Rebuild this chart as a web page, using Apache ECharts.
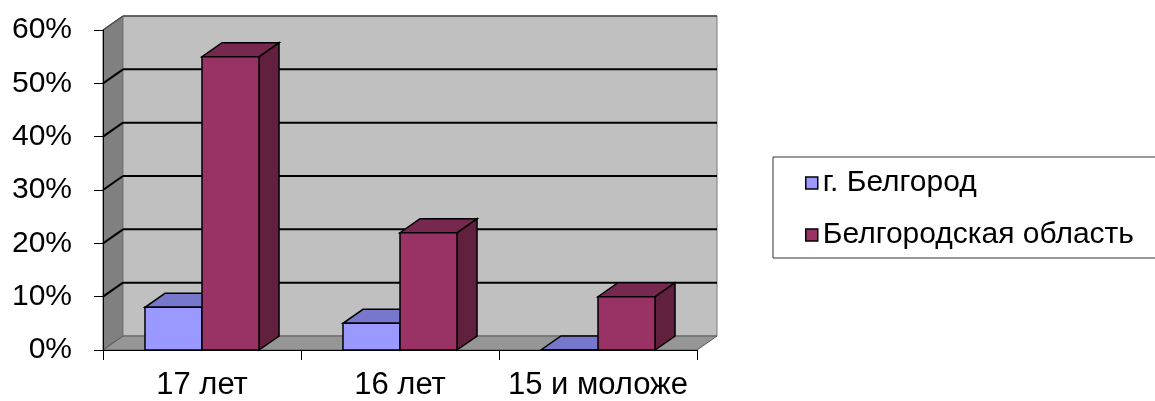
<!DOCTYPE html>
<html><head><meta charset="utf-8">
<script src="https://cdn.jsdelivr.net/npm/echarts@6/dist/echarts.min.js"></script>
<style>html,body{margin:0;padding:0;background:#fff}#c{width:1155px;height:401px}</style>
</head><body><div id="c"></div>
<script>
const categories = ['17 лет', '16 лет', '15 и моложе'];
const seriesNames = ['г. Белгород', 'Белгородская область'];
const cityValues = [8, 5, 0];
const regionValues = [55, 22, 10];
const yTicks = [0, 10, 20, 30, 40, 50, 60];

const DX = 20, DY = -14;
const FONT = '"Liberation Sans", Arial, sans-serif';
const yMax = yTicks[yTicks.length - 1];

function bgRender(params, api) {
  const cs = params.coordSys;
  const v = api.value(1);
  const y = api.coord([0, v])[1];
  const x0 = cs.x, x1 = cs.x + cs.width;
  const top = cs.y, bot = cs.y + cs.height;
  const children = [];
  if (params.dataIndex === 0) {
    children.push({type:'polygon', shape:{points:[[x0,top],[x0+DX,top+DY],[x0+DX,bot+DY],[x0,bot]]}, style:{fill:'#808080', stroke:'#5a5a5a', lineWidth:1}});
    children.push({type:'rect', shape:{x:x0+DX, y:top+DY, width:cs.width, height:cs.height}, style:{fill:'#c0c0c0', stroke:'#7a7a7a', lineWidth:1}});
    children.push({type:'polygon', shape:{points:[[x0,bot],[x1,bot],[x1+DX,bot+DY],[x0+DX,bot+DY]]}, style:{fill:'#969696', stroke:'#5a5a5a', lineWidth:1}});
  }
  if (v > 0) {
    const col = v === yMax ? '#4a4a4a' : '#000';
    const lw = v === yMax ? 1.5 : 2;
    children.push({type:'line', shape:{x1:x0+DX, y1:y+DY, x2:x1+DX, y2:y+DY}, style:{stroke:col, lineWidth:lw}});
    children.push({type:'line', shape:{x1:x0, y1:y, x2:x0+DX, y2:y+DY}, style:{stroke:col, lineWidth:lw}});
  }
  return {type:'group', children};
}

function barRender(pos, topColor, sideColor) {
  return function (params, api) {
    const ci = api.value(0), v = api.value(1);
    const base = api.coord([ci, 0]);
    const tp = api.coord([ci, v]);
    const band = api.size([1, 0])[0];
    const bw = band * 0.288;
    const xl = pos === 0 ? base[0] - bw : base[0];
    const xr = xl + bw;
    const yb = base[1], yt = tp[1];
    const st = '#000', lw = 1.5;
    return {type:'group', children:[
      {type:'polygon', shape:{points:[[xr,yb],[xr+DX,yb+DY],[xr+DX,yt+DY],[xr,yt]]}, style:{fill:sideColor, stroke:st, lineWidth:lw}},
      {type:'polygon', shape:{points:[[xl,yt],[xr,yt],[xr+DX,yt+DY],[xl+DX,yt+DY]]}, style:{fill:topColor, stroke:st, lineWidth:lw}},
      {type:'rect', shape:{x:xl, y:yt, width:bw, height:yb-yt}, style:{fill:api.visual('color'), stroke:st, lineWidth:lw}}
    ]};
  };
}

const chart = echarts.init(document.getElementById('c'), null, {renderer:'canvas'});
chart.setOption({
  animation: false,
  backgroundColor: '#fff',
  grid: {left:103, top:30, right:458, bottom:50},
  xAxis: {
    type:'category', data:categories, z:10,
    axisLine:{lineStyle:{color:'#000', width:1}},
    axisTick:{show:true, length:10, lineStyle:{color:'#000', width:1}},
    axisLabel:{fontFamily:FONT, fontSize:31, color:'#000', margin:20, interval:0}
  },
  yAxis: {
    type:'value', min:0, max:yMax, interval:10, z:10,
    axisLine:{show:true, lineStyle:{color:'#000', width:1}},
    axisTick:{show:true, length:9, lineStyle:{color:'#000', width:1}},
    axisLabel:{fontFamily:FONT, fontSize:30, color:'#000', margin:31, formatter:'{value}%'},
    splitLine:{show:false}
  },
  legend: {
    orient:'vertical', left:773, top:157, data:seriesNames,
    icon:'rect', itemWidth:12, itemHeight:12, itemGap:22,
    padding:[11, 22, 8, 32],
    borderColor:'#333', borderWidth:1, selectedMode:false,
    textStyle:{fontFamily:FONT, fontSize:30, color:'#000', lineHeight:30},
    itemStyle:{borderColor:'#000', borderWidth:1.5}
  },
  series: [
    {type:'custom', name:'bg', renderItem:bgRender, data:yTicks.map(v => [0, v]), encode:{x:0, y:1}, silent:true, z:1},
    {type:'custom', name:seriesNames[0], itemStyle:{color:'#9999ff'}, renderItem:barRender(0, '#7777cc', '#5c5ca8'), data:cityValues.map((v, i) => [i, v]), encode:{x:0, y:1}, z:2},
    {type:'custom', name:seriesNames[1], itemStyle:{color:'#993366'}, renderItem:barRender(1, '#77284f', '#62203f'), data:regionValues.map((v, i) => [i, v]), encode:{x:0, y:1}, z:3}
  ]
});
</script></body></html>
